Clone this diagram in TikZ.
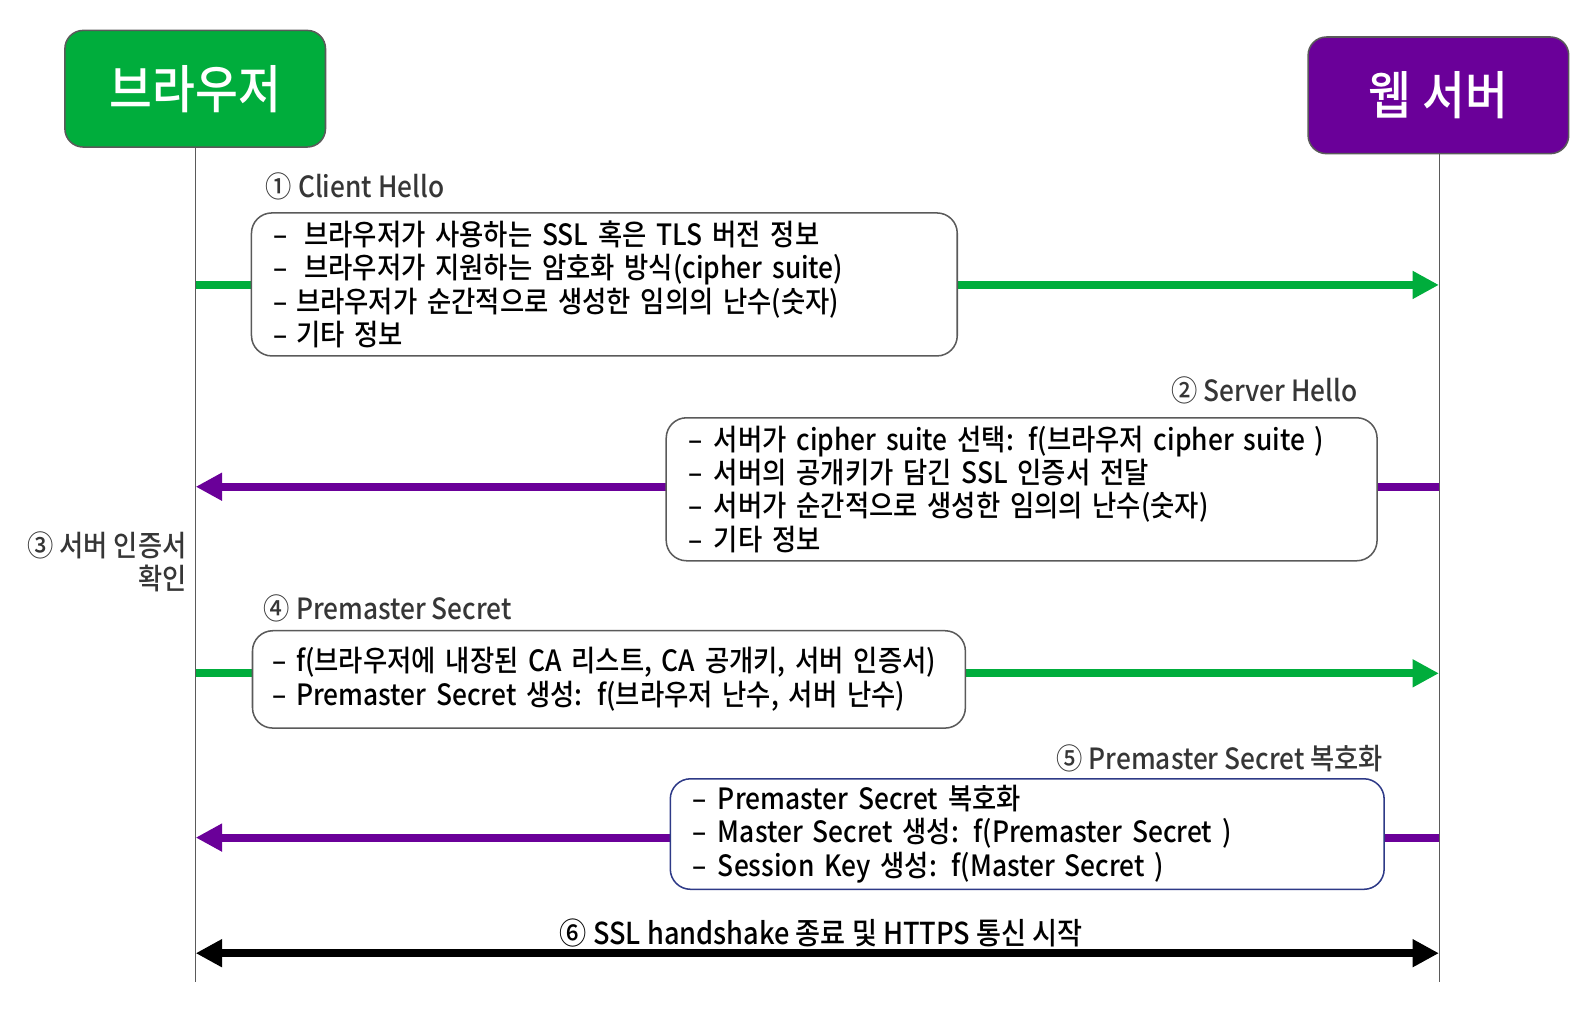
\documentclass[tikz,border=0pt]{standalone}
\usepackage{fontspec}
\setmainfont{Noto Sans CJK KR}[FakeStretch=0.9, UprightFont=* Medium]
\usetikzlibrary{arrows.meta}
\definecolor{brgreen}{HTML}{00AD3C}
\definecolor{svpurple}{HTML}{6A0099}
\definecolor{boxline}{HTML}{5A5A5A}
\definecolor{navyline}{HTML}{2E3A87}
\definecolor{labelgray}{HTML}{363636}
\newcommand\dsh[1]{–\hspace{#1}}
\begin{document}
\begin{tikzpicture}[x=1pt,y=-1pt,
  header/.style={rounded corners=18pt, draw=boxline, line width=1.5pt, text=white,
    font=\fontsize{51}{55}\selectfont, minimum width=257pt, minimum height=115pt},
  msgbox/.style={rounded corners=20pt, draw=boxline, line width=1.5pt, fill=white,
    font=\fontsize{28.9}{33}\selectfont, align=left, inner xsep=22pt, inner ysep=0pt},
  steplabel/.style={text=labelgray, font=\fontsize{28.8}{32}\selectfont, inner sep=0pt},
  lifeline/.style={draw=boxline, line width=0.8pt},
  msgarrow/.style={line width=8pt, -{Triangle[length=26pt,width=26pt]}},
  bothways/.style={line width=8pt, {Triangle[length=26pt,width=26pt]}-{Triangle[length=26pt,width=26pt]}}
]
\useasboundingbox (0,0) rectangle (1568,995);

% headers
\node[header, fill=brgreen] (browser) at (192.5,87.5) {브라우저};
\node[header, fill=svpurple] (server) at (1418.5,94) {웹 서버};

% lifelines
\coordinate (bend) at (193,968);
\coordinate (send) at (1419,968);
\draw[lifeline] (browser.south -| bend) -- (bend);
\draw[lifeline] (server.south -| send) -- (send);

% arrow end points on lifelines
\coordinate (b1) at (193,281);  \coordinate (s1) at (1419,281);
\coordinate (b2) at (193,480);  \coordinate (s2) at (1419,480);
\coordinate (b4) at (193,664);  \coordinate (s4) at (1419,664);
\coordinate (b5) at (193,826);  \coordinate (s5) at (1419,826);
\coordinate (b6) at (193,940);  \coordinate (s6) at (1419,940);

% arrows
\draw[msgarrow, draw=brgreen, fill=brgreen] (b1) -- (s1);
\draw[msgarrow, draw=svpurple, fill=svpurple] (s2) -- (b2);
\draw[msgarrow, draw=brgreen, fill=brgreen] (b4) -- (s4);
\draw[msgarrow, draw=svpurple, fill=svpurple] (s5) -- (b5);
\draw[bothways, draw=black, fill=black] (b6) -- (s6);

% message boxes
\node[msgbox, text width=652pt, minimum height=141pt] (m1) at (596,280.5)
  {\dsh{16pt}브라우저가 사용하는 SSL 혹은 TLS 버전 정보\\
   \dsh{16pt}브라우저가 지원하는 암호화 방식(cipher suite)\\
   \dsh{8pt}브라우저가 순간적으로 생성한 임의의 난수(숫자)\\
   \dsh{8pt}기타 정보};
\node[msgbox, text width=657pt, minimum height=141pt] (m2) at (1007.5,482.5)
  {\dsh{11pt}서버가 cipher suite 선택: f(브라우저 cipher suite )\\
   \dsh{11pt}서버의 공개키가 담긴 SSL 인증서 전달\\
   \dsh{11pt}서버가 순간적으로 생성한 임의의 난수(숫자)\\
   \dsh{11pt}기타 정보};
\node[msgbox, text width=663pt, minimum height=96pt, inner xsep=20pt] (m4) at (600.5,670)
  {\dsh{9pt}f(브라우저에 내장된 CA 리스트, CA 공개키, 서버 인증서)\\
   \dsh{9pt}Premaster Secret 생성: f(브라우저 난수, 서버 난수)};
\node[msgbox, draw=navyline, text width=660pt, minimum height=109pt] (m5) at (1013,822.5)
  {\dsh{11pt}Premaster Secret 복호화\\
   \dsh{11pt}Master Secret 생성: f(Premaster Secret )\\
   \dsh{11pt}Session Key 생성: f(Master Secret )};

% step labels
\node[steplabel, anchor=west] (l1) at (262,184) {① Client Hello};
\node[steplabel, anchor=east] (l2) at (1339,385) {② Server Hello};
\node[steplabel, anchor=east, align=right] (l3) at (184,554) {③ 서버 인증서\\확인};
\node[steplabel, anchor=west] (l4) at (260,600) {④ Premaster Secret};
\node[steplabel, anchor=east] (l5) at (1364,748) {⑤ Premaster Secret 복호화};
\node[steplabel, text=black, font=\fontsize{29.8}{32}\selectfont] (l6) at (810,920) {⑥ SSL handshake 종료 및 HTTPS 통신 시작};
\end{tikzpicture}
\end{document}
